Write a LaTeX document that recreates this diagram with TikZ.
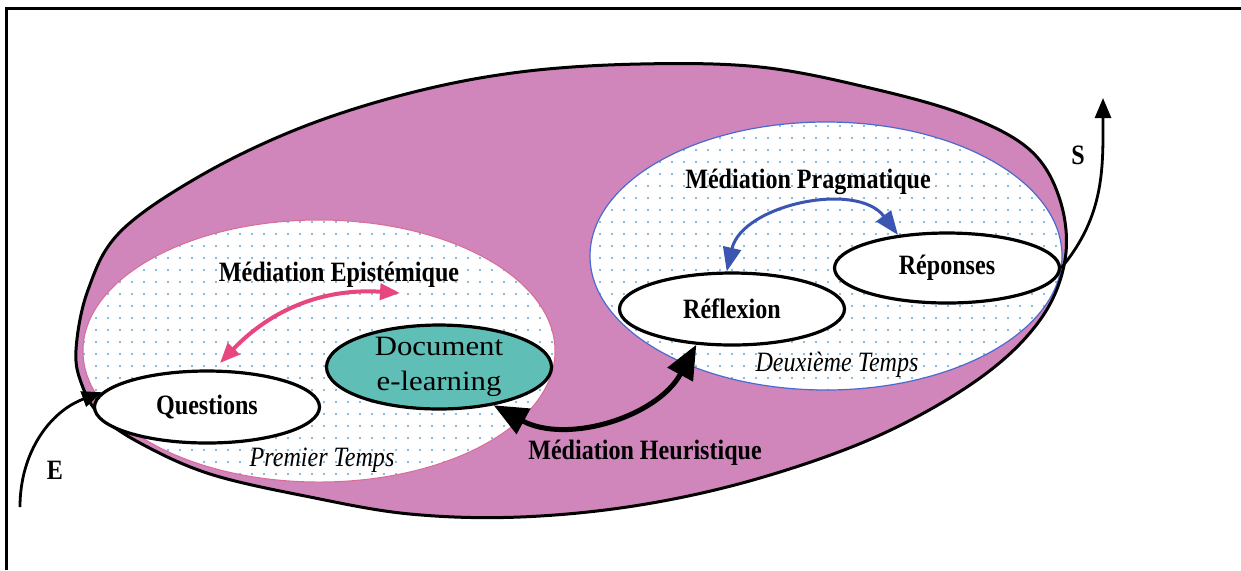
\documentclass[tikz,border=0pt]{standalone}
\usepackage{fontspec}
\setmainfont{Liberation Serif}
\newfontfamily\condserif[FakeStretch=0.86]{Liberation Serif}
\newfontfamily\wideserif[FakeStretch=1.1]{Liberation Serif}
\usetikzlibrary{arrows.meta,shapes.geometric,patterns.meta}
\definecolor{pinkfill}{HTML}{D085BB}
\definecolor{docteal}{HTML}{5FBFB6}
\definecolor{pinkarrow}{HTML}{E8467E}
\definecolor{bluearrow}{HTML}{3A55B2}
\definecolor{dotblue}{HTML}{5FA6D8}
\definecolor{zoneline}{HTML}{4A6AD0}
\tikzset{
  stagebox/.style={ellipse, draw=black, line width=1.6pt, fill=white, inner sep=0pt,
    minimum width=112.5pt, minimum height=36pt},
  boldlbl/.style={font=\condserif\bfseries\fontsize{14}{16}\selectfont, inner sep=0pt},
  itlbl/.style={font=\condserif\itshape\fontsize{14}{16}\selectfont, inner sep=0pt},
  dotzone/.style={pattern={Dots[distance=6pt,radius=0.6pt]}, pattern color=dotblue},
  flowarrow/.style={line width=1.4pt, -{Triangle[length=10pt,width=8pt]}},
}
\begin{document}
\begin{tikzpicture}[x=0.5pt,y=-0.5pt]
\useasboundingbox (0,0) rectangle (1241,570);
% frame (top and left only)
\draw[line width=1.5pt] (6.5,570) -- (6.5,8.5) -- (1241,8.5);

% outer pink shape
\fill[pinkfill] plot[smooth cycle, tension=0.6] coordinates {
 (76,350) (88,290) (120,232) (200,176) (300,128) (410,93) (520,72) (640,64)
 (760,67) (870,88) (965,115) (1030,150) (1060,200) (1065,260) (1040,320)
 (980,378) (880,435) (760,478) (640,505) (520,517) (410,514) (310,497)
 (210,474) (140,443) (100,415) (82,385)};

\begin{scope}
\clip plot[smooth cycle, tension=0.6] coordinates {
 (76,350) (88,290) (120,232) (200,176) (300,128) (410,93) (520,72) (640,64)
 (760,67) (870,88) (965,115) (1030,150) (1060,200) (1065,260) (1040,320)
 (980,378) (880,435) (760,478) (640,505) (520,517) (410,514) (310,497)
 (210,474) (140,443) (100,415) (82,385)};
% left zone (Premier Temps)
\fill[white] (319,351) ellipse [x radius=236, y radius=131];
\fill[dotzone] (319,351) ellipse [x radius=236, y radius=131];
\draw[pinkfill!80!red, line width=0.5pt] (319,351) ellipse [x radius=236, y radius=131];
% right zone (Deuxieme Temps)
\fill[white] (826,256) ellipse [x radius=236, y radius=134];
\fill[dotzone] (826,256) ellipse [x radius=236, y radius=134];
\draw[zoneline, line width=0.6pt] (826,256) ellipse [x radius=236, y radius=134];
\end{scope}

% outer outline
\draw[line width=1.5pt] plot[smooth cycle, tension=0.6] coordinates {
 (76,350) (88,290) (120,232) (200,176) (300,128) (410,93) (520,72) (640,64)
 (760,67) (870,88) (965,115) (1030,150) (1060,200) (1065,260) (1040,320)
 (980,378) (880,435) (760,478) (640,505) (520,517) (410,514) (310,497)
 (210,474) (140,443) (100,415) (82,385)};

% stage nodes
\node[stagebox, font=\condserif\bfseries\fontsize{14}{16}\selectfont] (q) at (207,407) {Questions};
\node[stagebox, fill=docteal, minimum height=37pt, align=center,
      font=\wideserif\fontsize{14}{17.5}\selectfont] (doc) at (439,367) {Document\\e-learning};
\node[stagebox, font=\condserif\bfseries\fontsize{14}{16}\selectfont] (rf) at (732,309) {Réflexion};
\node[stagebox, minimum height=35pt, font=\condserif\bfseries\fontsize{14}{16}\selectfont] (rp) at (947,268) {Réponses};

% labels
\node[boldlbl] (me) at (339,275) {Médiation Epistémique};
\node[boldlbl] (mp) at (808,182) {Médiation Pragmatique};
\node[boldlbl] (mh) at (645,453) {Médiation Heuristique};
\node[itlbl] (pt) at (322,460) {Premier Temps};
\node[itlbl] (dt) at (837,365) {Deuxième Temps};
\node[boldlbl] (el) at (55,470) {E};
\node[boldlbl] (sl) at (1078,155) {S};

% mediation arrows
\coordinate (pinkA) at (220,363);
\coordinate (pinkB) at (400,293);
\draw[pinkarrow, line width=2pt, {Triangle[length=10pt,width=8pt]}-{Triangle[length=10pt,width=8pt]}]
  (pinkA) to[bend left=25] (pinkB);
\draw[bluearrow, line width=1.5pt, {Triangle[length=12pt,width=9pt]}-{Triangle[length=12pt,width=9pt]}]
  (rf.98) to[bend left=65] (rp.146);
\draw[black, line width=2.5pt, {Triangle[length=17pt,width=14pt]}-{Triangle[length=17pt,width=14pt]}]
  (doc.-35) to[bend right=45] (rf.-135);

% entry / exit arrows
\coordinate (ein) at (20,507);
\coordinate (sout) at (1103,98);
\draw[flowarrow] (ein) to[out=90, in=200] (q.172);
\draw[flowarrow] (rp.east) to[out=50, in=-90] (sout);
\end{tikzpicture}
\end{document}
